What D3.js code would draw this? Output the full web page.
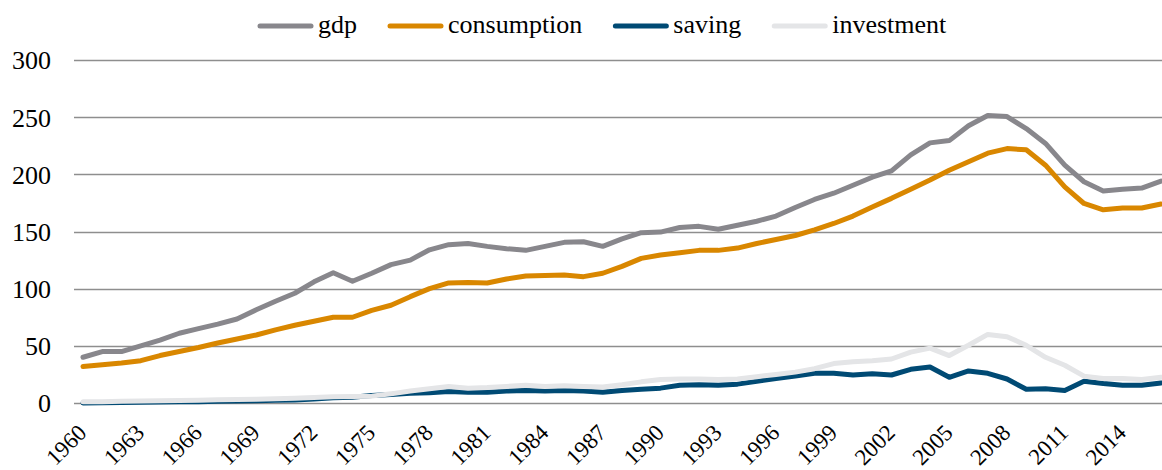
<!DOCTYPE html>
<html>
<head>
<meta charset="utf-8">
<script src="https://cdn.jsdelivr.net/npm/d3@7"></script>
<style>
  body { margin: 0; background: #fff; }
  #chart { width: 1162px; height: 470px; }
</style>
</head>
<body>
<div id="chart"></div>
<script>
var years = d3.range(1960, 2017);
var yTicks = [0, 50, 100, 150, 200, 250, 300];
var xLabels = d3.range(1960, 2017, 3);

var seriesNames = ["gdp", "consumption", "saving", "investment"];
var seriesColors = ["#88878c", "#d98700", "#004a74", "#e4e5e7"];

var gdp = [40, 45, 45, 50, 55, 61, 65, 69, 73.5, 81.5,
  89, 96, 106, 114, 106.5, 113.5, 121, 125, 134, 138.5,
  139.5, 137, 135, 133.5, 137, 140.5, 141, 137, 143.5, 149,
  149.5, 153.5, 154.5, 152, 155.5, 159, 163.5, 171, 178, 183.5,
  190.5, 197.5, 203, 217, 227.5, 229.5, 242.5, 251.5, 250.5, 240,
  227, 208, 193.5, 185.5, 187, 188, 194];
var consumption = [32, 33.5, 35, 37, 41.5, 45, 48.5, 52.5, 56, 59.5,
  64, 68, 71.5, 75, 75, 81, 85.5, 93, 100, 105,
  105.5, 105, 108.5, 111, 111.5, 112, 110.5, 113.5, 119.5, 126.5,
  129.5, 131.5, 133.5, 133.5, 135.5, 139.5, 143, 146.5, 151.5, 157,
  163.5, 171.5, 179, 187, 195, 203.5, 211, 218.5, 222.5, 221.5,
  208, 189, 174.5, 169, 170.5, 170.5, 174];
var saving = [0, 0.2, 0.4, 0.6, 0.8, 1, 1.2, 1.5, 1.8, 2,
  2.3, 2.6, 3.5, 4.5, 5, 6.5, 7.5, 8.5, 9, 10,
  9.5, 9.5, 10.5, 11, 10.5, 11, 10.5, 9.5, 11, 12,
  13, 15.5, 16, 15.5, 16.5, 19, 21.5, 23.5, 26, 26,
  24.5, 25.5, 24.5, 29.5, 31.5, 22.5, 28, 26, 21, 12,
  12.5, 11, 19, 17, 15.5, 15.5, 17.5];
var investment = [1, 1.2, 1.5, 1.7, 2, 2.2, 2.5, 2.8, 3, 3.3,
  3.7, 4.2, 4.8, 5.5, 5.7, 6, 8, 10.5, 12.5, 14.5,
  13, 13.5, 14.5, 15.5, 14.5, 15, 14.5, 14, 16, 18.5,
  20.5, 21, 21, 20.5, 21, 23, 25, 27, 30, 34.5,
  36, 37, 38.5, 44.5, 48, 41.5, 50.5, 60, 58, 50.5,
  40, 33, 23.5, 21.5, 21.5, 20.5, 22.5];

var seriesValues = [gdp, consumption, saving, investment];

var width = 1162;
var height = 470;
var gridLeft = 74;
var fontFamily = "'Liberation Serif', 'DejaVu Serif', serif";

var svg = d3.select("#chart")
  .append("svg")
  .attr("width", width)
  .attr("height", height)
  .attr("font-family", fontFamily);

var x = d3.scalePoint()
  .domain(years)
  .range([83, 1161]);

var y = d3.scaleLinear()
  .domain([0, 300])
  .range([403, 60]);

// horizontal gridlines
svg.append("g")
  .selectAll("line")
  .data(yTicks)
  .enter()
  .append("line")
  .attr("x1", gridLeft)
  .attr("x2", width)
  .attr("y1", function(d) { return Math.round(y(d)) + 0.5; })
  .attr("y2", function(d) { return Math.round(y(d)) + 0.5; })
  .attr("stroke", "#8e8e8e")
  .attr("stroke-width", 1.3);

// y axis labels
var yAxis = d3.axisLeft(y)
  .tickValues(yTicks)
  .tickSize(0)
  .tickPadding(0);

svg.append("g")
  .attr("transform", "translate(51,0)")
  .call(yAxis)
  .attr("font-family", fontFamily)
  .attr("font-size", "26px")
  .call(function(g) { g.select(".domain").remove(); })
  .selectAll("text")
  .style("font-family", fontFamily)
  .attr("fill", "#000")
  .attr("dy", "0.34em");

// x labels, rotated
svg.append("g")
  .selectAll("text")
  .data(xLabels)
  .enter()
  .append("text")
  .attr("transform", function(d) { return "translate(" + (x(d) + 5) + ",434) rotate(-45)"; })
  .attr("text-anchor", "end")
  .style("font-family", fontFamily)
  .attr("font-size", "23px")
  .attr("fill", "#000")
  .text(function(d) { return d; });

// series lines
var line = d3.line()
  .x(function(d, i) { return x(years[i]); })
  .y(function(d) { return y(d); });

svg.append("g")
  .selectAll("path")
  .data(seriesValues)
  .enter()
  .append("path")
  .attr("d", line)
  .attr("fill", "none")
  .attr("stroke", function(d, i) { return seriesColors[i]; })
  .attr("stroke-width", 5)
  .attr("stroke-linejoin", "round")
  .attr("stroke-linecap", "round");

// legend
var legend = svg.append("g");
var lx = 258;
seriesNames.forEach(function(name, i) {
  legend.append("line")
    .attr("x1", lx + 2)
    .attr("x2", lx + 53)
    .attr("y1", 26)
    .attr("y2", 26)
    .attr("stroke", seriesColors[i])
    .attr("stroke-width", 5)
    .attr("stroke-linecap", "round");
  var t = legend.append("text")
    .attr("x", lx + 60)
    .attr("y", 33)
    .style("font-family", fontFamily)
    .attr("font-size", "26px")
    .attr("fill", "#000")
    .text(name);
  lx = lx + 60 + t.node().getComputedTextLength() + 31;
});
</script>
</body>
</html>
